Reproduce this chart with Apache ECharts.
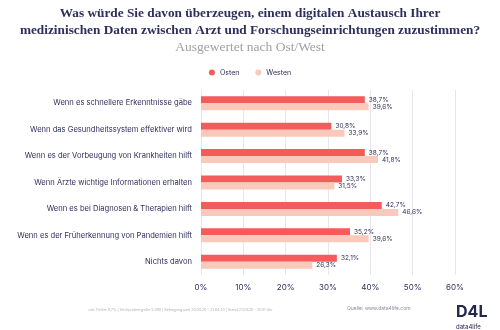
<!DOCTYPE html>
<html><head><meta charset="utf-8">
<script src="https://cdn.jsdelivr.net/npm/echarts@6/dist/echarts.min.js"></script>
<style>html,body{margin:0;padding:0;background:#fff}#c{width:500px;height:330px}</style>
</head><body><div id="c"></div>
<script>
const categories = [
  "Wenn es schnellere Erkenntnisse gäbe",
  "Wenn das Gesundheitssystem effektiver wird",
  "Wenn es der Vorbeugung von Krankheiten hilft",
  "Wenn Ärzte wichtige Informationen erhalten",
  "Wenn es bei Diagnosen & Therapien hilft",
  "Wenn es der Früherkennung von Pandemien hilft",
  "Nichts davon"
];
const osten = [38.7, 30.8, 38.7, 33.3, 42.7, 35.2, 32.1];
const westen = [39.6, 33.9, 41.8, 31.5, 46.6, 39.6, 26.3];
const seriesNames = ["Osten", "Westen"];
const xTicks = [0, 10, 20, 30, 40, 50, 60];

const navy = '#2e2f5c';
const fmt = v => v.toFixed(1).replace('.', ',') + '%';
const chart = echarts.init(document.getElementById('c'));
chart.setOption({
  backgroundColor: '#fff',
  animation: false,
  title: [{
    text: 'Was würde Sie davon überzeugen, einem digitalen Austausch Ihrer\nmedizinischen Daten zwischen Arzt und Forschungseinrichtungen zuzustimmen?',
    left: 'center', top: 0,
    textStyle: { fontFamily: 'Liberation Serif', fontSize: 13.3, fontWeight: 'bold', color: navy, lineHeight: 17 }
  }, {
    text: 'Ausgewertet nach Ost/West',
    left: 'center', top: 35,
    textStyle: { fontFamily: 'Liberation Serif', fontSize: 13.5, fontWeight: 'normal', color: '#a0a0a0' }
  }],
  legend: {
    top: 64, left: 'center',
    data: seriesNames,
    icon: 'circle', itemWidth: 6, itemHeight: 6, itemGap: 16,
    textStyle: { fontFamily: 'Inter', fontSize: 7, color: navy }
  },
  grid: { left: 201, right: 45, top: 90, bottom: 55 },
  xAxis: {
    type: 'value', min: 0, max: 60, interval: 10,
    axisLine: { show: false }, axisTick: { show: false },
    splitLine: { lineStyle: { color: '#e6e6ec', width: 1 } },
    axisLabel: { formatter: v => xTicks.includes(v) ? v + '%' : '', fontFamily: 'Inter', fontSize: 8, color: navy, margin: 9 }
  },
  yAxis: {
    type: 'category', data: categories, inverse: true,
    axisLine: { show: false }, axisTick: { show: false },
    axisLabel: { fontFamily: 'Inter', fontSize: 7.6, color: navy, margin: 9 }
  },
  series: [{
    name: seriesNames[0], type: 'bar', data: osten, barWidth: 7, barGap: '0%',
    itemStyle: { color: '#f45b5b' },
    label: { show: true, position: 'right', distance: 4, formatter: p => fmt(p.value), fontFamily: 'Inter', fontSize: 6.5, color: navy }
  }, {
    name: seriesNames[1], type: 'bar', data: westen, barWidth: 7,
    itemStyle: { color: '#f9c9bb' },
    label: { show: true, position: 'right', distance: 4, formatter: p => fmt(p.value), fontFamily: 'Inter', fontSize: 6.5, color: navy }
  }],
  graphic: [{
    type: 'text', left: 88, top: 308,
    style: { text: 'stat. Fehler 0,7% | Stichprobengröße 5.000 | Befragungszeit 20.04.20 - 21.04.20 | Stand 21.04.20 - 16:41 Uhr', font: '3.6px Inter', fill: '#b0b0b8' }
  }, {
    type: 'text', left: 347, top: 306,
    style: { text: 'Quelle: www.data4life.com', font: '5px Inter', fill: '#8a8aa0' }
  }, {
    type: 'text', left: 456, top: 304,
    style: { text: 'D4L', font: 'bold 16px Inter', fill: '#23264f' }
  }, {
    type: 'text', left: 456, top: 324,
    style: { text: 'data4life', font: '6px Inter', fill: '#23264f' }
  }]
});
</script></body></html>
